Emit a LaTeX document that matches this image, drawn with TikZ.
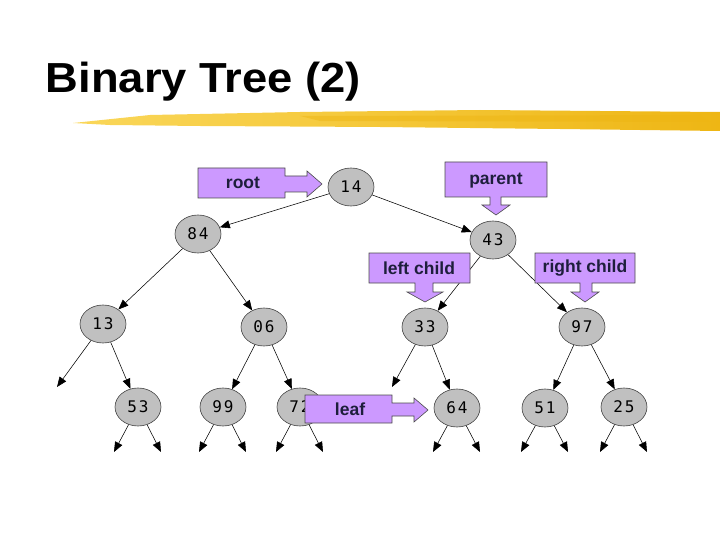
\documentclass[tikz,border=0pt]{standalone}
\usepackage{fontspec}
\setmainfont{Liberation Sans}
\newfontfamily\treemono[LetterSpace=12]{DejaVu Sans Mono}
\usetikzlibrary{arrows.meta,shapes.geometric}

\definecolor{calloutfill}{RGB}{204,153,255}
\definecolor{calloutink}{RGB}{30,30,60}
\definecolor{treegray}{RGB}{192,192,192}
\definecolor{brushlight}{RGB}{250,215,90}
\definecolor{brushdark}{RGB}{238,182,20}

\tikzset{
  tnode/.style={ellipse,draw=black!75,fill=treegray,line width=0.6pt,
    minimum width=46pt,minimum height=38pt,inner sep=0pt,
    font=\treemono\fontsize{16}{16}\selectfont},
  tedge/.style={-{Triangle[length=10pt,width=8pt]},line width=0.55pt},
  callout/.style={fill=calloutfill,draw=black!70,line width=0.6pt},
  clabel/.style={font=\bfseries\fontsize{17.5}{17.5}\selectfont,text=calloutink}
}

\begin{document}
\begin{tikzpicture}[x=1pt,y=-1pt]
  \useasboundingbox (0,0) rectangle (720,540);

  % title and brush stroke
  \node[anchor=base west,xscale=1.08,font=\bfseries\fontsize{42}{42}\selectfont] (title) at (42,93) {Binary Tree (2)};
  \shade[left color=brushlight,right color=brushdark]
    (73,123) -- (150,115) -- (300,112) -- (480,110) -- (720,112)
    -- (720,131) -- (560,129) -- (380,127) -- (200,126) -- (110,125) -- cycle;
  \fill[brushdark,opacity=0.5] (300,116) -- (700,115) -- (710,122) -- (320,121) -- cycle;

  % tree nodes
  \node[tnode] (t14) at (351,187) {14};
  \node[tnode] (t84) at (198,234) {84};
  \node[tnode] (t43) at (493,240) {43};
  \node[tnode] (t13) at (103,324) {13};
  \node[tnode] (t06) at (264,327) {06};
  \node[tnode] (t33) at (425,327) {33};
  \node[tnode] (t97) at (582,327) {97};
  \node[tnode] (t53) at (138,407) {53};
  \node[tnode] (t99) at (223,407) {99};
  \node[tnode] (t72) at (300,407) {72};
  \node[tnode] (t64) at (457,408) {64};
  \node[tnode] (t51) at (545,408) {51};
  \node[tnode] (t25) at (624,407) {25};

  % empty subtrees
  \coordinate (n13) at (57,387);
  \coordinate (n33) at (392,387);
  \foreach \leaf/\x in {53/138,99/223,72/300,64/457,51/545,25/624}{
    \coordinate (l\leaf) at (\x-24,452);
    \coordinate (r\leaf) at (\x+23,452);
  }

  % edges
  \draw[tedge] (t14) -- (t84);
  \draw[tedge] (t14) -- (t43);
  \draw[tedge] (t84) -- (t13);
  \draw[tedge] (t84) -- (t06);
  \draw[tedge] (t43) -- (t33);
  \draw[tedge] (t43) -- (t97);
  \draw[tedge] (t13) -- (n13);
  \draw[tedge] (t13) -- (t53);
  \draw[tedge] (t06) -- (t99);
  \draw[tedge] (t06) -- (t72);
  \draw[tedge] (t33) -- (n33);
  \draw[tedge] (t33) -- (t64);
  \draw[tedge] (t97) -- (t51);
  \draw[tedge] (t97) -- (t25);
  \foreach \leaf in {53,99,72,64,51,25}{
    \draw[tedge] (t\leaf) -- (l\leaf);
    \draw[tedge] (t\leaf) -- (r\leaf);
  }

  % callouts
  \draw[callout] (198,168) -- (285,168) -- (285,176) -- (307,176) -- (307,171) -- (322,184)
    -- (307,197) -- (307,192) -- (285,192) -- (285,198) -- (198,198) -- cycle;
  \node[clabel] (root) at (243,183) {root};

  \draw[callout] (445,162) -- (547,162) -- (547,197) -- (501,197) -- (501,205) -- (510,205)
    -- (496,215) -- (482,205) -- (490,205) -- (490,197) -- (445,197) -- cycle;
  \node[clabel] (parent) at (496,181) {parent};

  \draw[callout] (369,253) -- (470,253) -- (470,283) -- (433,283) -- (433,292) -- (443,292)
    -- (425,302) -- (407,292) -- (415,292) -- (415,283) -- (369,283) -- cycle;
  \node[clabel] (leftchild) at (419,268) {left child};

  \draw[callout] (535,253) -- (635,253) -- (635,283) -- (592,283) -- (592,292) -- (599,292)
    -- (585,302) -- (571,292) -- (580,292) -- (580,283) -- (535,283) -- cycle;
  \node[clabel] (rightchild) at (585,268) {right child};

  \draw[callout] (305,395) -- (392,395) -- (392,403) -- (414,403) -- (414,398) -- (428,410)
    -- (414,422) -- (414,416) -- (392,416) -- (392,423) -- (305,423) -- cycle;
  \node[clabel] (leaf) at (350,409) {leaf};
\end{tikzpicture}
\end{document}
